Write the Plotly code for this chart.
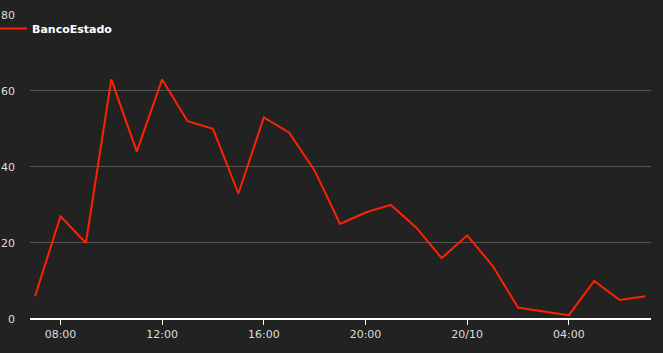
import plotly.graph_objects as go
import pandas as pd

times = pd.date_range("2023-10-19 07:00", "2023-10-20 07:00", freq="h")
series_name = "BancoEstado"
values = [6, 27, 20, 63, 44, 63, 52, 50, 33, 53, 49, 39, 25, 28, 30, 24, 16, 22, 14, 3, 2, 1, 10, 5, 6]

tick_vals = ["2023-10-19 08:00", "2023-10-19 12:00", "2023-10-19 16:00",
             "2023-10-19 20:00", "2023-10-20 00:00", "2023-10-20 04:00"]
tick_text = ["08:00", "12:00", "16:00", "20:00", "20/10", "04:00"]
y_ticks = [0, 20, 40, 60, 80]

font = "DejaVu Sans"

fig = go.Figure()
fig.add_trace(go.Scatter(x=times, y=values, mode="lines", name=series_name,
                         line=dict(color="#ff2200", width=2)))

fig.update_layout(
    width=663, height=353,
    margin=dict(l=30, r=12, t=14, b=34, autoexpand=False),
    paper_bgcolor="#222222", plot_bgcolor="#222222",
    font=dict(family=font, size=11, color="#dddddd"),
    showlegend=True,
    legend=dict(x=-38/621, y=1.0,
                xanchor="left", yanchor="top", bgcolor="rgba(0,0,0,0)",
                font=dict(family=font, size=11, color="#ffffff", weight="bold"),
                itemwidth=30),
    xaxis=dict(range=["2023-10-19 06:48", "2023-10-20 07:14"],
               tickvals=tick_vals, ticktext=tick_text,
               showgrid=False, zeroline=False, automargin=False,
               showline=False, ticks="outside", ticklen=5, tickcolor="#ffffff",
               tickwidth=1, tickfont=dict(color="#dddddd", size=11)),
    yaxis=dict(range=[0, 80.2], tickvals=y_ticks, showgrid=True,
               gridcolor="#555555", gridwidth=1, zeroline=True,
               zerolinecolor="#ffffff", zerolinewidth=1.5, automargin=False,
               showline=False, ticks="", ticklabelstandoff=14,
               tickfont=dict(color="#dddddd", size=11)),
)

fig.write_html("out.html")
